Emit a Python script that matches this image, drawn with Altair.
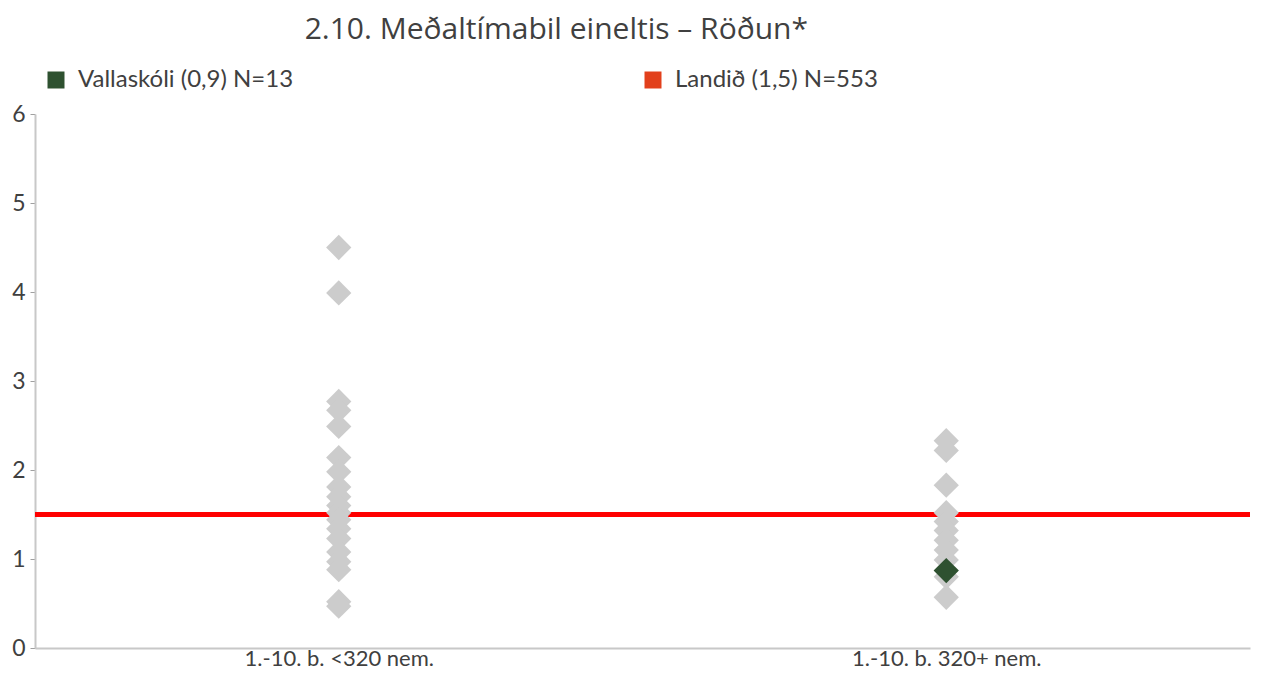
import altair as alt
import pandas as pd

categories = ["1.-10. b. <320 nem.", "1.-10. b. 320+ nem."]
group1_values = [4.50, 3.99, 2.77, 2.67, 2.49, 2.14, 1.98, 1.81, 1.70, 1.60, 1.52, 1.44,
                 1.34, 1.23, 1.08, 0.97, 0.88, 0.52, 0.47]
group2_values = [2.33, 2.22, 1.83, 1.52, 1.42, 1.32, 1.21, 1.10, 0.99, 0.80, 0.57]
school_label = "Vallaskóli (0,9) N=13"
school_value = 0.87
school_group = categories[1]
country_label = "Landið (1,5) N=553"
country_value = 1.5
title_text = "2.10. Meðaltímabil eineltis – Röðun*"

rows = []
for v in group1_values:
    rows.append({"group": categories[0], "value": v, "series": "other", "order": 0})
for v in group2_values:
    rows.append({"group": categories[1], "value": v, "series": "other", "order": 0})
rows.append({"group": school_group, "value": school_value, "series": school_label, "order": 1})
df = pd.DataFrame(rows)

FONT = "Lato"
TXT = "#404040"

x_enc = alt.X("group:N", sort=categories,
              scale=alt.Scale(type="point", padding=0.5),
              axis=alt.Axis(title=None, ticks=False, labelFontSize=22, labelFont=FONT,
                            labelColor=TXT, labelPadding=0, labelLimit=500,
                            domainColor="#c8c8c8", domainWidth=2, labelAngle=0))

points = alt.Chart(df).mark_point(shape="diamond", filled=True, size=640, opacity=1).encode(
    x=x_enc,
    y=alt.Y("value:Q", scale=alt.Scale(domain=[0, 6], nice=False),
            axis=alt.Axis(title=None, values=[0, 1, 2, 3, 4, 5, 6], format="d", grid=False,
                          labelFontSize=23, labelFont=FONT, labelColor=TXT, tickSize=5,
                          tickColor="#a0a0a0", labelPadding=5, domainColor="#c8c8c8",
                          domainWidth=2)),
    color=alt.Color("series:N",
                    scale=alt.Scale(domain=[school_label, country_label, "other"],
                                    range=["#2e5130", "#e2401c", "#cccccc"]),
                    legend=alt.Legend(title=None, values=[school_label, country_label],
                                      orient="none", direction="horizontal", columns=2,
                                      legendX=9, legendY=-46, symbolType="square",
                                      symbolSize=289, symbolStrokeWidth=0, symbolOpacity=1,
                                      labelFontSize=24, labelFont=FONT, labelColor=TXT,
                                      labelLimit=600, labelOffset=10, columnPadding=347,
                                      padding=0)),
    order=alt.Order("order:Q"),
)

line_df = pd.DataFrame({"value": [country_value]})
rule = alt.Chart(line_df).mark_rule(color="#ff0000", strokeWidth=5).encode(
    y=alt.Y("value:Q")
)

chart = alt.layer(rule, points).properties(
    width=1215, height=534,
    autosize=alt.AutoSizeParams(type="none"),
    padding={"left": 27, "top": 106, "right": 3, "bottom": 22},
    title=alt.TitleParams(title_text, anchor="start", dx=293, offset=23, fontSize=30,
                          font="Open Sans", fontWeight="normal", color=TXT),
).configure_view(stroke=None)

chart.save("out.html", embed_options={"renderer": "svg", "actions": False})
